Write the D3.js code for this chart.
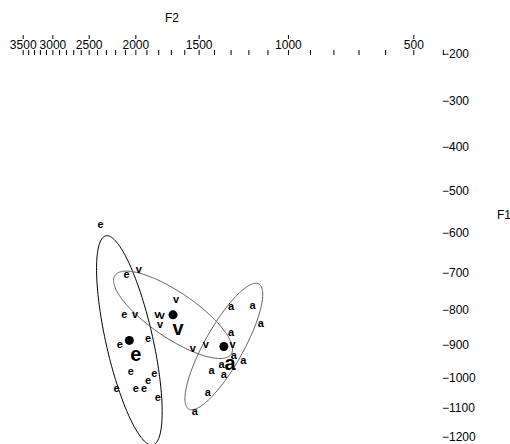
<!DOCTYPE html>
<html>
<head>
<meta charset="utf-8">
<script src="https://cdnjs.cloudflare.com/ajax/libs/d3/7.8.5/d3.min.js"></script>
<style>
body { margin: 0; background: #fff; }
svg { display: block; font-family: "Liberation Sans", Arial, sans-serif; }
.tick line { stroke: #000; }
</style>
</head>
<body>
<svg id="chart" width="510" height="444"></svg>
<script>
// Tokens, F2 / F1 in Hz
var e_f2 = [2358, 2084, 2107, 2151, 1885, 2042, 1833, 1885, 1920, 1997, 2185, 1804];
var e_f1 = [582, 708, 816, 902, 882, 984, 988, 1012, 1036, 1038, 1038, 1066];
var v_f2 = [1968, 2004, 1808, 1770, 1786, 1661, 1540, 1453, 1289];
var v_f1 = [695, 814, 814, 817, 843, 773, 912, 902, 901];
var a_f2 = [1298, 1178, 1134, 1298, 1281, 1228, 1354, 1340, 1416, 1440, 1526];
var a_f1 = [792, 791, 840, 867, 934, 948, 960, 991, 981, 1049, 1115];

// Per vowel: centre (dot), big label, ellipse semi-diameters (Bark: dF2, dF1)
var vowels = ["e", "v", "a"];
var centre_f2 = [2057, 1683, 1340];
var centre_f1 = [887, 814, 905];
var label_f2 = [1997, 1646, 1303];
var label_f1 = [934, 857, 960];
var ell_u = [[-0.674, 2.115], [-1.791, 0.695], [0.966, 1.279]];
var ell_v = [[-0.722, 0], [0, 0.544], [-0.662, 0]];

// Axis ticks
var f2_major = [3500, 3000, 2500, 2000, 1500, 1000, 500];
var f2_minor_lo = 400, f2_minor_hi = 3500, f2_minor_step = 100;
var f1_ticks = [200, 300, 400, 500, 600, 700, 800, 900, 1000, 1100, 1200];

var tokens = {
    e: {f2: e_f2, f1: e_f1},
    v: {f2: v_f2, f1: v_f1},
    a: {f2: a_f2, f1: a_f1}
};

// Zwicker Bark scale
function bark(f)
{
    return 13 * Math.atan(0.00076 * f) + 3.5 * Math.atan(Math.pow(f / 7500, 2));
}

var svg = d3.select("#chart");

var x = d3.scaleLinear()
    .domain([bark(3500), bark(500)])
    .range([22.7, 413.3]);
var y = d3.scaleLinear()
    .domain([bark(200), bark(1200)])
    .range([53.5, 436.5]);

// Top axis: major ticks above labels, minor ticks below
var major = svg.append("g")
    .attr("transform", "translate(0, 35)")
    .call(d3.axisBottom(x)
        .tickValues(f2_major.map(bark))
        .tickFormat((d, i) => f2_major[i])
        .tickSize(4)
        .tickPadding(1));
major.select(".domain").remove();
major.selectAll("text").attr("font-size", 12).attr("fill", "#000")
    .attr("font-family", "Liberation Sans, Arial, sans-serif");

var minor = svg.append("g")
    .attr("transform", "translate(0, 50)")
    .call(d3.axisBottom(x)
        .tickValues(d3.range(f2_minor_lo, f2_minor_hi + 1, f2_minor_step).map(bark))
        .tickFormat("")
        .tickSize(5));
minor.select(".domain").remove();

// Right axis: labels only
var yax = svg.append("g")
    .attr("transform", "translate(442, 0)")
    .call(d3.axisRight(y)
        .tickValues(f1_ticks.map(bark))
        .tickFormat((d, i) => "\u2212" + f1_ticks[i])
        .tickSize(0)
        .tickPadding(0));
yax.select(".domain").remove();
yax.selectAll("text").attr("font-size", 12).attr("fill", "#000")
    .attr("font-family", "Liberation Sans, Arial, sans-serif");

// Axis titles
svg.append("text")
    .attr("x", 172).attr("y", 18).attr("dy", "0.36em")
    .attr("text-anchor", "middle").attr("font-size", 12)
    .text("F2");
svg.append("text")
    .attr("x", 497).attr("y", 215).attr("dy", "0.36em")
    .attr("text-anchor", "start").attr("font-size", 12)
    .text("F1");

// Ellipses
var ell_stroke = {e: "#000", v: "#606060", a: "#606060"};
var line = d3.line().curve(d3.curveLinearClosed);
vowels.forEach(function(vw, k) {
    var c2 = bark(centre_f2[k]), c1 = bark(centre_f1[k]);
    var pts = d3.range(0, 2 * Math.PI, Math.PI / 90).map(function(t) {
        var z2 = c2 + ell_u[k][0] * Math.cos(t) + ell_v[k][0] * Math.sin(t);
        var z1 = c1 + ell_u[k][1] * Math.cos(t) + ell_v[k][1] * Math.sin(t);
        return [x(z2), y(z1)];
    });
    svg.append("path")
        .attr("d", line(pts))
        .attr("fill", "none")
        .attr("stroke", ell_stroke[vw])
        .attr("stroke-width", 1);
});

// Tokens
vowels.forEach(function(vw) {
    var t = tokens[vw];
    svg.append("g").selectAll("text")
        .data(d3.range(t.f2.length))
        .enter()
        .append("text")
        .attr("x", i => x(bark(t.f2[i])))
        .attr("y", i => y(bark(t.f1[i])))
        .attr("dy", "0.26em")
        .attr("text-anchor", "middle")
        .attr("font-size", 11)
        .attr("font-weight", "bold")
        .text(vw);
});

// Centres and big labels
svg.append("g").selectAll("circle")
    .data(vowels)
    .enter()
    .append("circle")
    .attr("cx", (d, k) => x(bark(centre_f2[k])))
    .attr("cy", (d, k) => y(bark(centre_f1[k])))
    .attr("r", 4.5)
    .attr("fill", "#000");
svg.append("g").selectAll("text")
    .data(vowels)
    .enter()
    .append("text")
    .attr("x", (d, k) => x(bark(label_f2[k])))
    .attr("y", (d, k) => y(bark(label_f1[k])))
    .attr("dy", "0.26em")
    .attr("text-anchor", "middle")
    .attr("font-size", 20)
    .attr("font-weight", "bold")
    .text(d => d);
</script>
</body>
</html>
